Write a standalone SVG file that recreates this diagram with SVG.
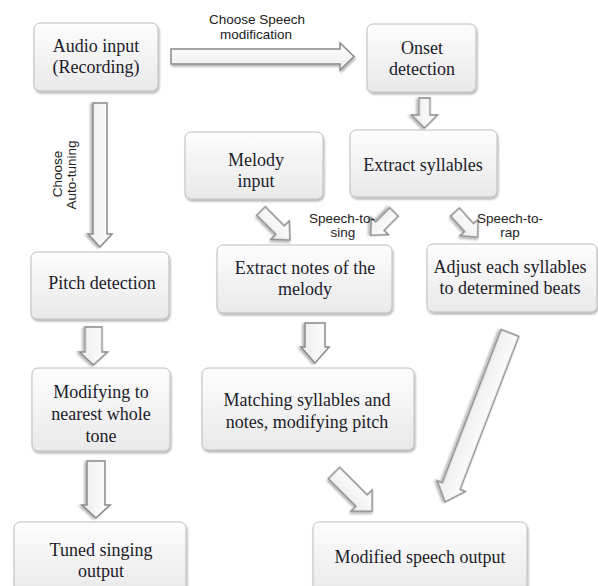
<svg xmlns="http://www.w3.org/2000/svg" width="598" height="586" viewBox="0 0 598 586">
<defs>
<linearGradient id="boxg" x1="0" y1="0" x2="0" y2="1">
<stop offset="0" stop-color="#fdfdfd"/>
<stop offset="1" stop-color="#e9e9e9"/>
</linearGradient>
<linearGradient id="arrg" x1="0" y1="0" x2="0" y2="1">
<stop offset="0" stop-color="#ffffff"/>
<stop offset="1" stop-color="#ececec"/>
</linearGradient>
<filter id="sh" x="-10%" y="-10%" width="130%" height="130%">
<feDropShadow dx="1" dy="2" stdDeviation="1.2" flood-color="#000" flood-opacity="0.3"/>
</filter>
</defs>
<style>
.box{fill:url(#boxg);stroke:#bdbdbd;stroke-width:1;filter:url(#sh)}
.t{font-family:"Liberation Serif","Times New Roman",serif;font-size:18px;fill:#1c1c2a;text-anchor:middle}
.lbl{font-family:"Liberation Sans",Arial,sans-serif;font-size:13.5px;fill:#222;text-anchor:middle}
.arr{fill:url(#arrg);stroke:#8a8a8a;stroke-width:1.5;stroke-linejoin:miter;filter:url(#sh)}
</style>
<rect width="598" height="586" fill="#ffffff"/>

<g id="connectors">
<polygon class="arr" transform="translate(171,56.5)" points="0,-7.5 169,-7.5 169,-13.5 183,0 169,13.5 169,7.5 0,7.5"/>
<polygon class="arr" transform="translate(100,103) rotate(90)" points="0,-7 131,-7 131,-12 144,0 131,12 131,7 0,7"/>
<polygon class="arr" transform="translate(424.5,98) rotate(90)" points="0,-5.5 17,-5.5 17,-13 30,0 17,13 17,5.5 0,5.5"/>
<polygon class="arr" transform="translate(261,211) rotate(45)" points="0,-6 27,-6 27,-13 41,0 27,13 27,6 0,6"/>
<polygon class="arr" transform="translate(394,212) rotate(135)" points="0,-6 20,-6 20,-12 33,0 20,12 20,6 0,6"/>
<polygon class="arr" transform="translate(455,212) rotate(48)" points="0,-6 21,-6 21,-12 34,0 21,12 21,6 0,6"/>
<polygon class="arr" transform="translate(93.5,327) rotate(90)" points="0,-8.5 25,-8.5 25,-14 38,0 25,14 25,8.5 0,8.5"/>
<polygon class="arr" transform="translate(96,461) rotate(90)" points="0,-9 44,-9 44,-14 57,0 44,14 44,9 0,9"/>
<polygon class="arr" transform="translate(315,323) rotate(90)" points="0,-10 24,-10 24,-14 40,0 24,14 24,10 0,10"/>
<polygon class="arr" transform="translate(334,473) rotate(45)" points="0,-8 39,-8 39,-15 54,0 39,15 39,8 0,8"/>
<polygon class="arr" transform="translate(510,333) rotate(111)" points="0,-9.5 164,-9.5 164,-15 181,0 164,15 164,9.5 0,9.5"/>
<text class="lbl" x="257" y="24">Choose Speech</text>
<text class="lbl" x="256" y="39">modification</text>
<text class="lbl" transform="translate(62,174) rotate(-90)">Choose</text>
<text class="lbl" transform="translate(76,175) rotate(-90)">Auto-tuning</text>
<text class="lbl" x="342" y="223">Speech-to-</text>
<text class="lbl" x="343" y="237">sing</text>
<text class="lbl" x="510" y="223">Speech-to-</text>
<text class="lbl" x="510" y="237">rap</text>
</g>

<g id="audio-input">
<rect class="box" x="34" y="23" width="124" height="68" rx="6"/>
<text class="t" x="96" y="52">Audio input</text>
<text class="t" x="96" y="73">(Recording)</text>
</g>
<g id="onset-detection">
<rect class="box" x="367" y="24" width="109" height="68" rx="6"/>
<text class="t" x="422" y="54">Onset</text>
<text class="t" x="422" y="75">detection</text>
</g>
<g id="extract-syllables">
<rect class="box" x="350" y="130" width="147" height="67" rx="6"/>
<text class="t" x="423" y="171">Extract syllables</text>
</g>
<g id="melody-input">
<rect class="box" x="185" y="132" width="138" height="67" rx="6"/>
<text class="t" x="256" y="166">Melody</text>
<text class="t" x="256" y="187">input</text>
</g>
<g id="pitch-detection">
<rect class="box" x="31" y="252" width="138" height="67" rx="6"/>
<text class="t" x="102" y="289">Pitch detection</text>
</g>
<g id="extract-notes">
<rect class="box" x="217" y="245" width="175" height="68" rx="6"/>
<text class="t" x="305" y="274">Extract notes of the</text>
<text class="t" x="305" y="295">melody</text>
</g>
<g id="adjust-syllables">
<rect class="box" x="427" y="244" width="170" height="68" rx="6"/>
<text class="t" x="510" y="273">Adjust each syllables</text>
<text class="t" x="510" y="294">to determined beats</text>
</g>
<g id="modifying-tone">
<rect class="box" x="32" y="368" width="138" height="83" rx="6"/>
<text class="t" x="101" y="398">Modifying to</text>
<text class="t" x="101" y="420">nearest whole</text>
<text class="t" x="101" y="442">tone</text>
</g>
<g id="matching">
<rect class="box" x="202" y="368" width="212" height="82" rx="6"/>
<text class="t" x="307" y="406">Matching syllables and</text>
<text class="t" x="307" y="428">notes, modifying pitch</text>
</g>
<g id="tuned-output">
<rect class="box" x="14" y="522" width="172" height="72" rx="6"/>
<text class="t" x="101" y="556">Tuned singing</text>
<text class="t" x="101" y="577">output</text>
</g>
<g id="modified-output">
<rect class="box" x="313" y="522" width="214" height="72" rx="6"/>
<text class="t" x="420" y="563">Modified speech output</text>
</g>
</svg>
